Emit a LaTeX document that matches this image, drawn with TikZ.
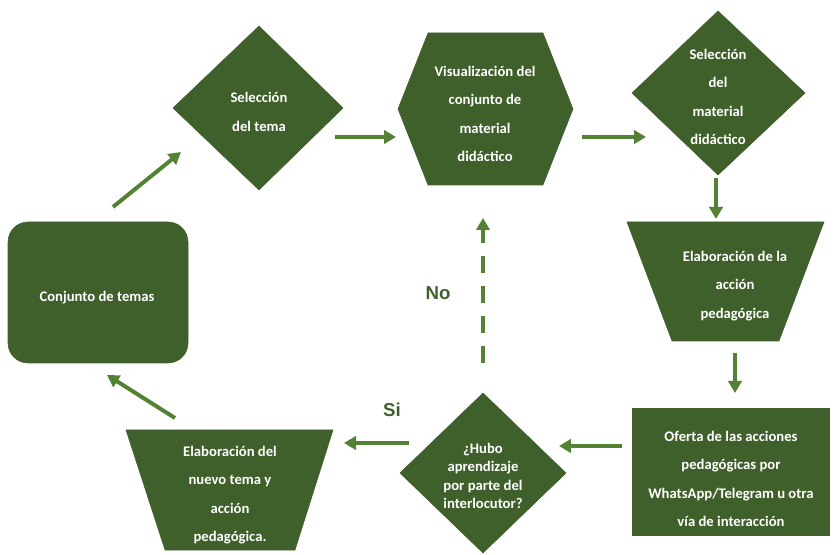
\documentclass[tikz,border=0pt]{standalone}
\usepackage{fontspec}
\setmainfont{Carlito}
\newfontfamily\labelfont{Liberation Sans}
\usetikzlibrary{arrows.meta}
\definecolor{boxgreen}{RGB}{64,96,43}
\definecolor{arrowgreen}{RGB}{84,130,53}
\tikzset{
  shapefill/.style={fill=boxgreen, draw=boxgreen, line join=miter},
  boxtext/.style={text=white, align=center, font=\bfseries\fontsize{11}{21.4}\selectfont, inner sep=0pt},
  tighttext/.style={text=white, align=center, font=\bfseries\fontsize{11}{13.9}\selectfont, inner sep=0pt},
  flowarrow/.style={draw=arrowgreen, line width=3pt, -{Triangle[length=9pt,width=10pt]}},
  dasharrow/.style={flowarrow, dash pattern=on 12.5pt off 10pt},
  answer/.style={text=boxgreen, font=\labelfont\bfseries\fontsize{14}{16}\selectfont, inner sep=0pt}
}
\begin{document}
\begin{tikzpicture}[x=0.75pt,y=-0.75pt]
\useasboundingbox (0,0) rectangle (835,555);

% shapes
\path[shapefill] (173,108) -- (259,26) -- (343,108) -- (259,190) -- cycle;
\path[shapefill] (398,109) -- (428,33) -- (543,33) -- (573,109) -- (543,185) -- (428,185) -- cycle;
\path[shapefill] (632,93) -- (718,11) -- (805,93) -- (718,175) -- cycle;
\path[shapefill] (627,222) -- (824,222) -- (779,341) -- (672,341) -- cycle;
\path[shapefill] (632,408) rectangle (829,535);
\path[shapefill] (400,473) -- (483,393) -- (566,473) -- (483,553) -- cycle;
\path[shapefill] (126,430) -- (333,430) -- (295,550) -- (165,550) -- cycle;
\path[shapefill, rounded corners=15pt] (8,222) rectangle (188,363);

% texts
\node[boxtext] (seltema) at (259,112) {Selección\\del tema};
\node[boxtext] (visual) at (485,114) {Visualización del\\conjunto de\\material\\didáctico};
\node[boxtext] (selmat) at (718,97) {Selección\\del\\material\\didáctico};
\node[boxtext] (elab) at (735,286) {Elaboración de la\\acción\\pedagógica};
\node[boxtext] (oferta) at (731,479) {Oferta de las acciones\\pedagógicas por\\WhatsApp/Telegram u otra\\vía de interacción};
\node[tighttext] (hubo) at (483,476) {¿Hubo\\aprendizaje\\por parte del\\interlocutor?};
\node[boxtext] (nuevo) at (230,495) {Elaboración del\\nuevo tema y\\acción\\pedagógica.};
\node[boxtext] (conj) at (97,298) {Conjunto de temas};

\node[answer] (no) at (438,293) {No};
\node[answer] (si) at (392,410) {Si};

% arrow end points
\coordinate (a1s) at (113,207); \coordinate (a1e) at (181,152);
\coordinate (a2s) at (335,137); \coordinate (a2e) at (396,137);
\coordinate (a3s) at (582,137); \coordinate (a3e) at (646,137);
\coordinate (a4s) at (716,178); \coordinate (a4e) at (716,219);
\coordinate (a5s) at (735,353); \coordinate (a5e) at (735,393);
\coordinate (a6s) at (622,446); \coordinate (a6e) at (559,446);
\coordinate (a7s) at (409,443); \coordinate (a7e) at (344,443);
\coordinate (a8s) at (175,418); \coordinate (a8e) at (107,375);
\coordinate (d1s) at (483,363); \coordinate (d1e) at (483,218);

\draw[flowarrow] (a1s) -- (a1e);
\draw[flowarrow] (a2s) -- (a2e);
\draw[flowarrow] (a3s) -- (a3e);
\draw[flowarrow] (a4s) -- (a4e);
\draw[flowarrow] (a5s) -- (a5e);
\draw[flowarrow] (a6s) -- (a6e);
\draw[flowarrow] (a7s) -- (a7e);
\draw[flowarrow] (a8s) -- (a8e);
\draw[dasharrow] (d1s) -- (d1e);
\end{tikzpicture}
\end{document}
